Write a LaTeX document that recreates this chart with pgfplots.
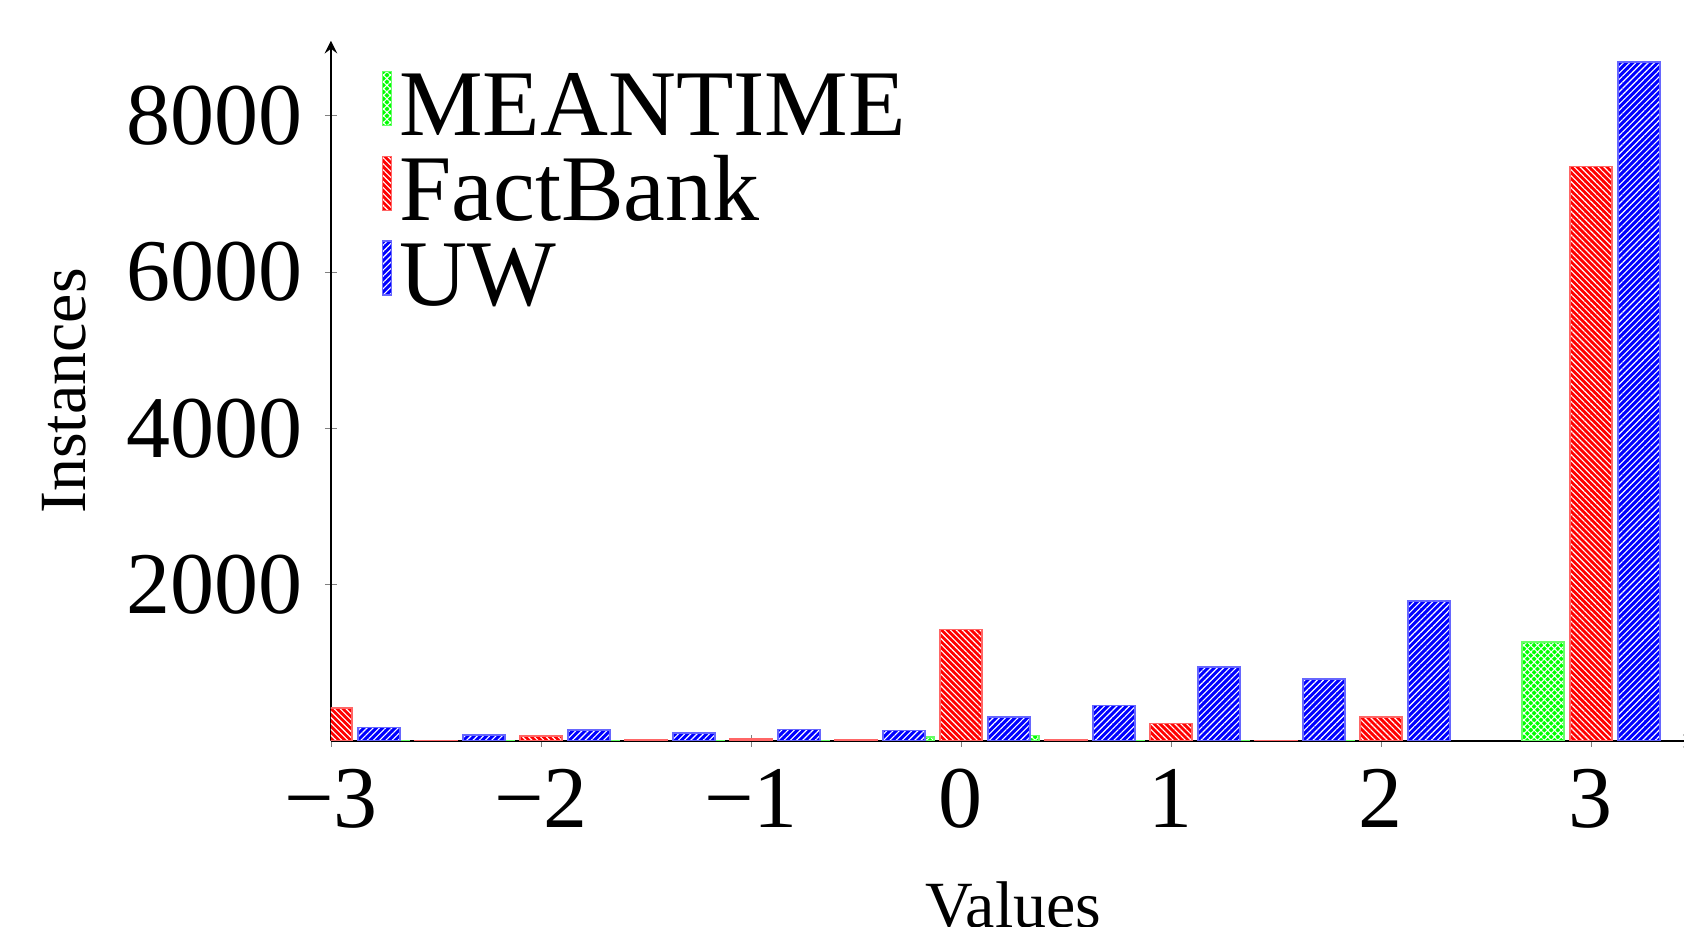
\documentclass[border=0pt]{standalone}
\usepackage{fontspec}
\setmainfont{Liberation Serif}
\usepackage{pgfplots}
\usepackage{pgfplotstable}
\pgfplotsset{compat=1.18}
\usetikzlibrary{patterns.meta}

\definecolor{cgreen}{RGB}{0,255,0}
\definecolor{cred}{RGB}{255,0,0}
\definecolor{cblue}{RGB}{0,0,255}

\pgfplotstableread{
x    g     r     b
-3   10    422   170
-2.5 5     6     77
-2   6     64    141
-1.5 6     10    102
-1   6     25    148
-0.5 6     10    132
0    51    1424  307
0.5  72    10    455
1    6     225   943
1.5  6     6     793
2    6     307   1791
3    1263  7350  8688
}\datatable

\pgfplotsset{
  mylegend/.style={legend image code/.code={\draw[##1] (0pt,2.5pt) rectangle (2.25pt,16pt);}}
}

\begin{document}
\begin{tikzpicture}
\begin{axis}[
  at={(0pt,0pt)}, anchor=south west,
  scale only axis,
  width=341.25pt, height=175.06pt,
  xmin=-3, xmax=3.5, ymin=0, ymax=8960,
  axis lines=left,
  ybar, bar width=10.6pt,
  xtick={-3,-2,-1,0,1,2,3},
  xticklabels={−3,−2,−1,0,1,2,3},
  ytick={2000,4000,6000,8000},
  yticklabels={2000,4000,6000,8000},
  tick align=center,
  major tick length=3pt,
  tick label style={font=\fontsize{22}{22}\selectfont},
  xticklabel style={yshift=-2pt},
  yticklabel style={xshift=-2pt},
  xlabel={Values}, ylabel={Instances},
  label style={font=\fontsize{16.5}{18}\selectfont},
  xlabel style={at={(axis description cs:0.5,-0.267)}, anchor=base},
  ylabel style={at={(axis description cs:-0.1795,0.5)}, rotate=0, anchor=base},
  legend style={at={(0.0366,0.9582)}, anchor=north west, draw=none, fill=none,
    inner sep=0pt, column sep=1.75pt, row sep=0pt,
    font=\fontsize{23.5}{24}\selectfont, cells={anchor=base west},
    nodes={inner sep=0pt, text height=16pt, text depth=5pt}},
  clip=true,
]
\addplot[bar shift=-12pt, fill=cgreen, draw=cgreen!60, line width=0.4pt,
  postaction={pattern={Hatch[angle=45,distance=1.2pt,line width=0.26pt]}, pattern color=white},
  mylegend] table[x=x,y=g]{\datatable};
\addplot[bar shift=0pt, fill=cred, draw=cred!60, line width=0.4pt,
  postaction={pattern={Lines[angle=-45,distance=1.05pt,line width=0.28pt]}, pattern color=white},
  mylegend] table[x=x,y=r]{\datatable};
\addplot[bar shift=12pt, fill=cblue, draw=cblue!60, line width=0.4pt,
  postaction={pattern={Lines[angle=45,distance=1.1pt,line width=0.28pt]}, pattern color=white},
  mylegend] table[x=x,y=b]{\datatable};
\legend{MEANTIME,FactBank,UW}
\end{axis}
\pgfresetboundingbox
\path[use as bounding box] (-82.75pt,-46.5pt) rectangle (338.25pt,185.25pt);
\end{tikzpicture}
\end{document}
